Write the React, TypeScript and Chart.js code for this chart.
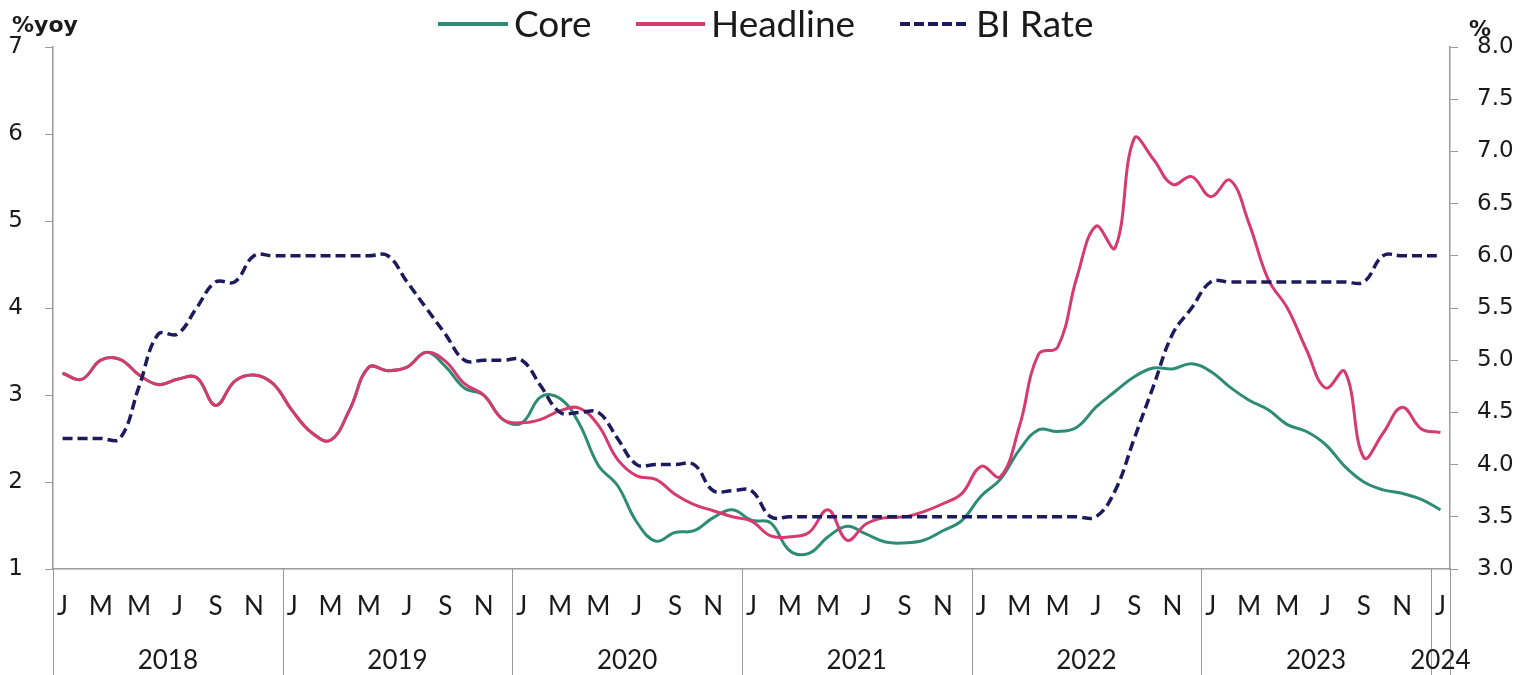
import React, { useEffect, useRef } from 'react';
import { Chart, registerables } from 'chart.js';

Chart.register(...registerables);

const monthLetters: string[] = [
  'J','F','M','A','M','J','J','A','S','O','N','D',
  'J','F','M','A','M','J','J','A','S','O','N','D',
  'J','F','M','A','M','J','J','A','S','O','N','D',
  'J','F','M','A','M','J','J','A','S','O','N','D',
  'J','F','M','A','M','J','J','A','S','O','N','D',
  'J','F','M','A','M','J','J','A','S','O','N','D',
  'J',
];

const yearLabels: string[] = ['2018', '2019', '2020', '2021', '2022', '2023', '2024'];

const core: number[] = [
  3.25, 3.18, 3.40, 3.41, 3.23, 3.12, 3.18, 3.20, 2.88, 3.16, 3.23, 3.13,
  2.82, 2.57, 2.48, 2.83, 3.32, 3.28, 3.32, 3.49, 3.33, 3.08, 3.00, 2.72,
  2.68, 2.98, 2.96, 2.67, 2.19, 1.96, 1.54, 1.32, 1.42, 1.44, 1.59, 1.68,
  1.56, 1.53, 1.21, 1.18, 1.37, 1.49, 1.40, 1.31, 1.30, 1.33, 1.44, 1.56,
  1.84, 2.03, 2.37, 2.60, 2.58, 2.63, 2.86, 3.04, 3.21, 3.31, 3.30, 3.36,
  3.27, 3.09, 2.94, 2.83, 2.66, 2.58, 2.43, 2.18, 2.00, 1.91, 1.87, 1.80,
  1.68,
];

const headline: number[] = [
  3.25, 3.18, 3.40, 3.41, 3.23, 3.12, 3.18, 3.20, 2.88, 3.16, 3.23, 3.13,
  2.82, 2.57, 2.48, 2.83, 3.32, 3.28, 3.32, 3.49, 3.39, 3.13, 3.00, 2.72,
  2.68, 2.72, 2.82, 2.85, 2.65, 2.26, 2.07, 2.03, 1.86, 1.74, 1.67, 1.60,
  1.55, 1.38, 1.37, 1.42, 1.68, 1.33, 1.52, 1.59, 1.60, 1.66, 1.75, 1.87,
  2.18, 2.06, 2.64, 3.47, 3.55, 4.35, 4.94, 4.69, 5.95, 5.71, 5.42, 5.51,
  5.28, 5.47, 4.97, 4.33, 4.00, 3.52, 3.08, 3.27, 2.28, 2.56, 2.86, 2.61,
  2.57,
];

const biRate: number[] = [
  4.25, 4.25, 4.25, 4.25, 4.75, 5.25, 5.25, 5.50, 5.75, 5.75, 6.00, 6.00,
  6.00, 6.00, 6.00, 6.00, 6.00, 6.00, 5.75, 5.50, 5.25, 5.00, 5.00, 5.00,
  5.00, 4.75, 4.50, 4.50, 4.50, 4.25, 4.00, 4.00, 4.00, 4.00, 3.75, 3.75,
  3.75, 3.50, 3.50, 3.50, 3.50, 3.50, 3.50, 3.50, 3.50, 3.50, 3.50, 3.50,
  3.50, 3.50, 3.50, 3.50, 3.50, 3.50, 3.50, 3.75, 4.25, 4.75, 5.25, 5.50,
  5.75, 5.75, 5.75, 5.75, 5.75, 5.75, 5.75, 5.75, 5.75, 6.00, 6.00, 6.00,
  6.00,
];

const seriesNames: string[] = ['Core', 'Headline', 'BI Rate'];
const leftUnit = '%yoy';
const rightUnit = '%';

const C_CORE = '#2e8b74';
const C_HEAD = '#d63a6e';
const C_BI = '#1d1b5e';
const C_AXIS = '#9a9a9a';
const C_TEXT = '#1a1a1a';

export default function App() {
  const ref = useRef<HTMLCanvasElement>(null);

  useEffect(() => {
    document.body.style.margin = '0';
    const canvas = ref.current;
    if (!canvas) return;

    const decor = {
      id: 'decor',
      afterDraw(chart: any) {
        const { ctx, chartArea, scales } = chart;
        const xs = scales.x;
        const half = (xs.getPixelForValue(1) - xs.getPixelForValue(0)) / 2;
        const n = monthLetters.length;
        ctx.save();
        // year separators below the axis
        ctx.strokeStyle = C_AXIS;
        ctx.lineWidth = 1;
        const bounds: number[] = [];
        for (let i = 0; i < n; i += 12) bounds.push(xs.getPixelForValue(i) - half);
        bounds.push(chartArea.right);
        for (const bx of bounds) {
          ctx.beginPath();
          ctx.moveTo(Math.round(bx) + 0.5, chartArea.bottom);
          ctx.lineTo(Math.round(bx) + 0.5, chart.height);
          ctx.stroke();
        }
        // year labels
        ctx.fillStyle = C_TEXT;
        ctx.font = '26px Lato';
        ctx.textAlign = 'center';
        ctx.textBaseline = 'middle';
        yearLabels.forEach((y, k) => {
          const s = k * 12;
          const e = Math.min(s + 11, n - 1);
          const cx = (xs.getPixelForValue(s) + xs.getPixelForValue(e)) / 2;
          ctx.fillText(y, cx, 661);
        });
        // unit labels
        ctx.font = 'bold 22px "DejaVu Sans"';
        ctx.textAlign = 'left';
        ctx.textBaseline = 'alphabetic';
        ctx.fillText(leftUnit, 12, 32);
        ctx.fillText(rightUnit, 1469, 36);
        // legend
        const items = [
          { color: C_CORE, dash: [] as number[], x0: 438, x1: 508, tx: 514 },
          { color: C_HEAD, dash: [] as number[], x0: 636, x1: 705, tx: 711 },
          { color: C_BI, dash: [10, 4], x0: 900, x1: 970, tx: 976 },
        ];
        items.forEach((it, i) => {
          ctx.beginPath();
          ctx.setLineDash(it.dash);
          ctx.strokeStyle = it.color;
          ctx.lineWidth = 4;
          ctx.moveTo(it.x0, 24);
          ctx.lineTo(it.x1, 24);
          ctx.stroke();
          ctx.setLineDash([]);
          ctx.fillStyle = C_TEXT;
          ctx.font = '37px Lato';
          ctx.textBaseline = 'middle';
          ctx.fillText(seriesNames[i], it.tx, 25);
        });
        ctx.restore();
      },
    };

    const chart = new Chart(canvas, {
      type: 'line',
      data: {
        labels: monthLetters,
        datasets: [
          {
            label: seriesNames[0],
            data: core,
            borderColor: C_CORE,
            borderWidth: 3,
            pointRadius: 0,
            tension: 0.4,
            yAxisID: 'y',
            order: 3,
          },
          {
            label: seriesNames[1],
            data: headline,
            borderColor: C_HEAD,
            borderWidth: 3,
            pointRadius: 0,
            tension: 0.4,
            yAxisID: 'y',
            order: 2,
          },
          {
            label: seriesNames[2],
            data: biRate,
            borderColor: C_BI,
            borderWidth: 3.5,
            borderDash: [10, 5],
            pointRadius: 0,
            tension: 0.4,
            yAxisID: 'y1',
            order: 1,
          },
        ],
      },
      options: {
        responsive: false,
        animation: false,
        layout: { padding: { top: 47, left: 0, right: 0, bottom: 0 } },
        plugins: {
          legend: { display: false },
          tooltip: { enabled: false },
        },
        scales: {
          x: {
            type: 'category',
            offset: true,
            grid: { display: false, drawTicks: false },
            border: { display: true, color: C_AXIS, width: 1.5 },
            ticks: {
              autoSkip: false,
              maxRotation: 0,
              minRotation: 0,
              padding: 22,
              color: C_TEXT,
              font: { family: 'Lato', size: 26 },
              callback: (_v: any, i: number) => (i % 2 === 0 ? monthLetters[i] : ''),
            },
            afterFit: (s: any) => { s.height = 106; },
          },
          y: {
            position: 'left',
            min: 1,
            max: 7,
            ticks: {
              stepSize: 1,
              padding: 22,
              color: C_TEXT,
              font: { family: 'DejaVu Sans', size: 23 },
            },
            grid: { display: true, drawOnChartArea: false, drawTicks: true, tickLength: 8, color: C_AXIS },
            border: { display: true, color: C_AXIS, width: 1.5 },
            afterFit: (s: any) => { s.width = 53; },
          },
          y1: {
            position: 'right',
            min: 3,
            max: 8,
            ticks: {
              stepSize: 0.5,
              padding: 19,
              color: C_TEXT,
              font: { family: 'DejaVu Sans', size: 23 },
              callback: (v: any) => Number(v).toFixed(1),
            },
            grid: { display: true, drawOnChartArea: false, drawTicks: true, tickLength: 8, color: C_AXIS },
            border: { display: true, color: C_AXIS, width: 1.5 },
            afterFit: (s: any) => { s.width = 72; },
          },
        },
      },
      plugins: [decor],
    });

    return () => chart.destroy();
  }, []);

  return (
    <div style={{ position: 'absolute', left: 0, top: 0, width: 1522, height: 675, background: '#fff' }}>
      <canvas ref={ref} width={1522} height={675} style={{ display: 'block' }} />
    </div>
  );
}
